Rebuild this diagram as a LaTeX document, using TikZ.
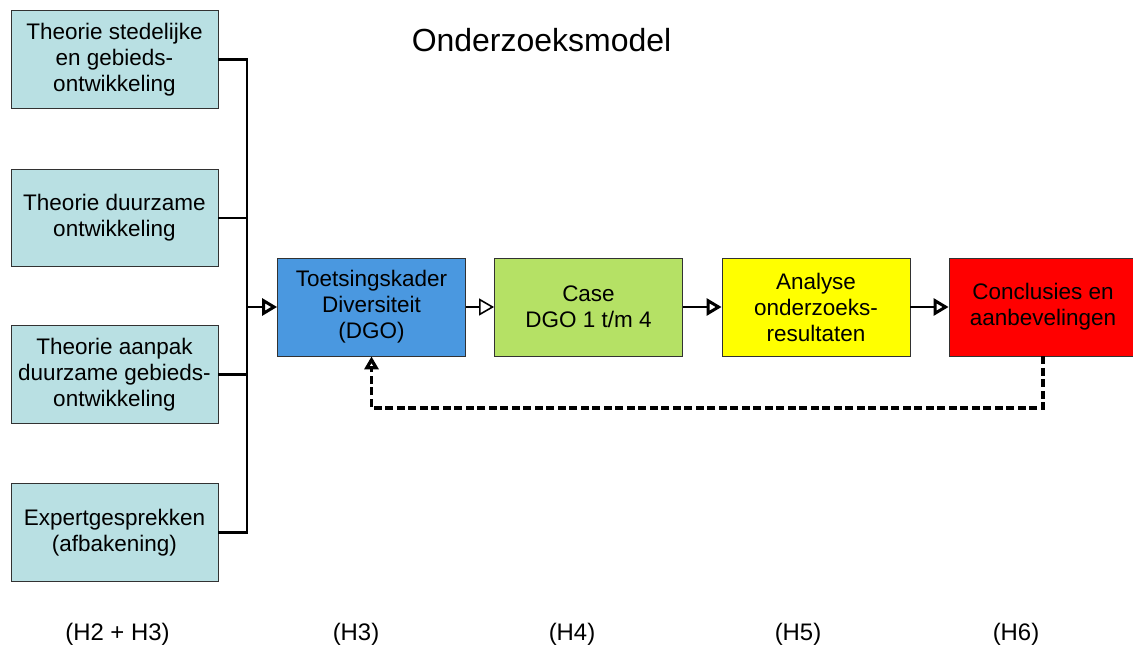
\documentclass[tikz,border=0pt]{standalone}
\usepackage{fontspec}
\setmainfont{Liberation Sans}
\usepackage{xcolor}
\usepackage{tikz}
\usetikzlibrary{positioning}
\usetikzlibrary{arrows.meta}

\definecolor{theorycyan}{RGB}{185,224,227}
\definecolor{frameblue}{RGB}{74,152,224}
\definecolor{casegreen}{RGB}{181,225,101}
\definecolor{resultyellow}{RGB}{255,255,0}
\definecolor{conclred}{RGB}{255,0,0}
\definecolor{boxline}{RGB}{50,50,50}

\begin{document}
\begin{tikzpicture}[x=0.02cm, y=-0.02cm,
		box/.style={draw=boxline, line width=0.5pt, align=center, inner sep=0pt,
			font=\fontsize{12.8}{14.8}\selectfont},
		theorybox/.style={box, fill=theorycyan, minimum width=4.14cm, minimum height=1.95cm},
		stepbox/.style={box, minimum width=3.76cm, minimum height=1.96cm},
		bus/.style={line width=1.7pt},
		flow/.style={-{Triangle[open, length=0.3cm, width=0.34cm]}, line width=1.7pt},
		feedback/.style={-{Triangle[open, length=0.26cm, width=0.28cm]}, line width=1.9pt,
			dash pattern=on 0.16cm off 0.07cm},
		chapter/.style={font=\fontsize{13.6}{16}\selectfont}]
		\useasboundingbox (0,0) rectangle (1133,649);

		% Title
		\node[font=\fontsize{18.2}{21}\selectfont] (title) at (541.5,40) {Onderzoeksmodel};

		% Theory boxes
		\node[theorybox] (th1) at (114.5,59.5) {Theorie stedelijke\\en gebieds-\\ontwikkeling};
		\node[theorybox] (th2) at (114.5,218) {Theorie duurzame\\ontwikkeling};
		\node[theorybox] (th3) at (114.5,374.5) {Theorie aanpak\\duurzame gebieds-\\ontwikkeling};
		\node[theorybox] (th4) at (114.5,532.5) {Expertgesprekken\\(afbakening)};

		% Research steps
		\node[stepbox, fill=frameblue] (frame) at (371.5,307) {Toetsingskader\\Diversiteit\\(DGO)};
		\node[stepbox, fill=casegreen] (case) at (588.5,307) {Case\\DGO 1 t/m 4};
		\node[stepbox, fill=resultyellow] (result) at (816,307) {Analyse\\onderzoeks-\\resultaten};
		\node[stepbox, fill=conclred] (concl) at (1043,307) {Conclusies en\\aanbevelingen};

		% Bus from theory boxes
		\coordinate (bus) at (247,307);
		\draw[bus] (th1.east) -| (bus) |- (th4.east);
		\draw[bus] (th2.east) -- (th2.east -| bus);
		\draw[bus] (th3.east) -- (th3.east -| bus);

		% Flow arrows
		\draw[flow] (bus) -- (frame.west);
		\draw[flow, line width=0.9pt] (frame.east) -- (case.west);
		\draw[flow] (case.east) -- (result.west);
		\draw[flow] (result.east) -- (concl.west);

		% Feedback loop
		\coordinate (loop) at (1043,408);
		\draw[feedback] (concl.south) -- (loop) -| (frame.south);

		% Chapters
		\node[chapter] (h23) at (117.5,634) {(H2 + H3)};
		\node[chapter] (h3) at (356,634) {(H3)};
		\node[chapter] (h4) at (572,634) {(H4)};
		\node[chapter] (h5) at (798,634) {(H5)};
		\node[chapter] (h6) at (1016,634) {(H6)};
	\end{tikzpicture}
\end{document}
